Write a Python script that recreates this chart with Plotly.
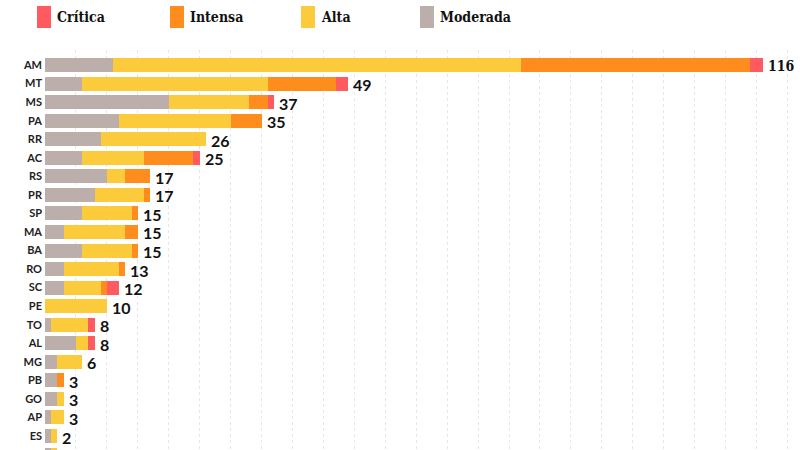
import plotly.graph_objects as go

states = ["AM", "MT", "MS", "PA", "RR", "AC", "RS", "PR", "SP", "MA", "BA",
          "RO", "SC", "PE", "TO", "AL", "MG", "PB", "GO", "AP", "ES", "RJ"]
moderada = [11, 6, 20, 12, 9, 6, 10, 8, 6, 3, 6, 3, 3, 0, 1, 5, 2, 2, 2, 1, 1, 1]
alta     = [66, 30, 13, 18, 17, 10, 3, 8, 8, 10, 8, 9, 6, 10, 6, 2, 4, 0, 1, 2, 1, 1]
intensa  = [37, 11, 3, 5, 0, 8, 4, 1, 1, 2, 1, 1, 1, 0, 0, 0, 0, 1, 0, 0, 0, 0]
critica  = [2, 2, 1, 0, 0, 1, 0, 0, 0, 0, 0, 0, 2, 0, 1, 1, 0, 0, 0, 0, 0, 0]
totals = [m + a + i + c for m, a, i, c in zip(moderada, alta, intensa, critica)]

series = [
    ("Moderada", moderada, "#bcaeab"),
    ("Alta", alta, "#fccb3b"),
    ("Intensa", intensa, "#fe8d1d"),
    ("Crítica", critica, "#fe5a5f"),
]

fig = go.Figure()
for name, vals, color in series:
    fig.add_trace(go.Bar(
        y=states, x=vals, name=name, orientation="h",
        marker=dict(color=color, line=dict(width=0)),
        width=0.755, showlegend=False, hoverinfo="x+y+name",
    ))

annotations = []
for st, tot in zip(states, totals):
    big = tot >= 100
    annotations.append(dict(
        x=tot, y=st, xref="x", yref="y", text=str(tot), showarrow=False,
        xanchor="left", yanchor="middle", xshift=3, yshift=-1,
        font=dict(family="DejaVu Serif Condensed" if big else "Lato",
                  size=14 if big else 16, color="#111111",
                  weight="bold"),
    ))

FW, FH = 800, 450
L, T = 45, 50
W, H = FW - L, FH - T

def px(x):
    return (x - L) / W

def py(y):
    return (T + H - y) / H

legend_items = [("Crítica", "#fe5a5f", 37), ("Intensa", "#fe8d1d", 170),
                ("Alta", "#fccb3b", 301), ("Moderada", "#bcaeab", 420)]
shapes = []
for name, color, x0 in legend_items:
    shapes.append(dict(type="rect", xref="paper", yref="paper",
                       x0=px(x0), x1=px(x0 + 14), y0=py(28), y1=py(6),
                       fillcolor=color, line=dict(width=0)))
    annotations.append(dict(x=px(x0 + 18), y=py(17), xref="paper", yref="paper",
                            text=name, showarrow=False, xanchor="left",
                            yanchor="middle",
                            font=dict(family="DejaVu Serif Condensed", size=14,
                                      color="#111111", weight="bold")))

row_px = 18.55
r0 = -15 / row_px
r1 = r0 + H / row_px

fig.update_layout(
    barmode="stack",
    width=FW, height=FH,
    margin=dict(l=L, r=0, t=T, b=0, autoexpand=False),
    plot_bgcolor="white", paper_bgcolor="white",
    shapes=shapes, annotations=annotations,
    xaxis=dict(range=[0, W / 6.187], dtick=5, showgrid=True, gridcolor="#e6e6e6",
               griddash="dot", gridwidth=1, zeroline=False,
               showticklabels=False, ticks=""),
    yaxis=dict(range=[r1, r0], type="category", showgrid=False,
               ticks="", ticklabelstandoff=2, automargin=False,
               tickfont=dict(family="Lato", size=11, color="#222222",
                             weight="bold")),
)

fig.write_html(
    "out.html",
    config={"displayModeBar": False},
    post_script="document.body.style.margin='0';document.body.style.overflow='hidden';",
)
